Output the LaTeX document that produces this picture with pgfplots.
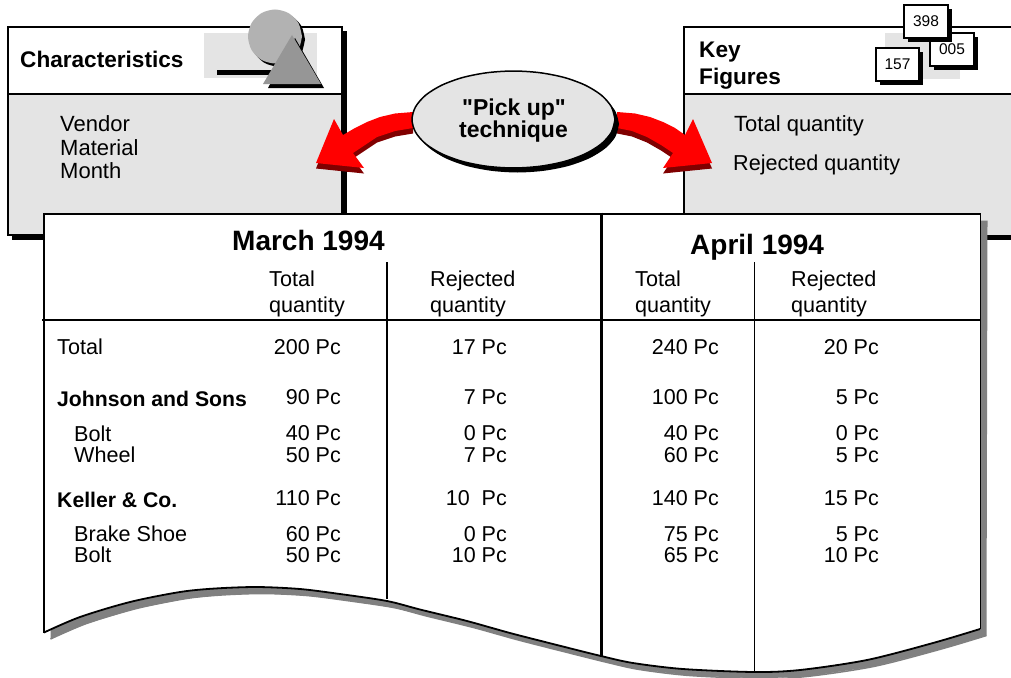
\documentclass[border=0pt]{standalone}
\usepackage{pgfplots}
\pgfplotsset{compat=1.18}
\usepackage{fontspec}
\setmainfont{Liberation Sans}[Ligatures=TeXOff]
\definecolor{boxgray}{HTML}{E4E4E4}
\definecolor{circgray}{HTML}{B2B2B2}
\definecolor{trigray}{HTML}{969696}
\definecolor{shadowgray}{HTML}{808080}
\definecolor{darkred}{HTML}{800000}
\tikzset{
  lt/.style={anchor=base west, inner sep=0pt, font=\fontsize{22}{24}\selectfont, text=black},
  tl/.style={anchor=base west, inner sep=0pt, font=\fontsize{21.6}{24}\selectfont, text=black},
  rt/.style={anchor=base east, inner sep=0pt, font=\fontsize{21.5}{24}\selectfont, text=black},
  bt/.style={anchor=base west, inner sep=0pt, font=\fontsize{21.2}{24}\selectfont\bfseries, text=black},
  hb/.style={anchor=base west, inner sep=0pt, font=\fontsize{22.6}{24}\selectfont\bfseries, text=black},
  ct/.style={anchor=base, inner sep=0pt, font=\fontsize{23}{24}\selectfont\bfseries, text=black},
  mt/.style={anchor=base west, inner sep=0pt, font=\fontsize{28}{30}\selectfont\bfseries, text=black},
  st/.style={anchor=center, inner sep=0pt, font=\fontsize{15.5}{17}\selectfont, text=black},
}
\begin{document}
\begin{tikzpicture}
\begin{axis}[
    scale only axis,
    width=1011pt, height=677pt,
    xmin=0, xmax=1011, ymin=0, ymax=677,
    y dir=reverse,
    hide axis,
]
% page background
\addplot[fill=white, draw=none] coordinates {(0,0) (1011,0) (1011,677) (0,677)} --cycle;

% Characteristics box
\addplot[fill=black, draw=none] coordinates {(12,31) (347,31) (347,240) (12,240)} --cycle;
\addplot[fill=white, draw=none] coordinates {(8,27) (342,27) (342,94) (8,94)} --cycle;
\addplot[fill=boxgray, draw=none] coordinates {(8,94) (342,94) (342,235) (8,235)} --cycle;
\addplot[draw=black, line width=1.8pt] coordinates {(8,27) (342,27) (342,235) (8,235)} --cycle;
\addplot[draw=black, line width=1.5pt] coordinates {(8,94) (342,94)};

% icon: shapes
\addplot[fill=boxgray, draw=none] coordinates {(204,33) (317,33) (317,78) (204,78)} --cycle;
\addplot[fill=black, draw=none] coordinates {(217,70) (272,70) (272,75) (217,75)} --cycle;
\addplot[fill=black, draw=none, smooth, xshift=3pt, yshift=-3pt] coordinates {(302,36.5) (298.4,50) (288.5,59.9) (275,63.5) (261.5,59.9) (251.6,50) (248,36.5) (251.6,23) (261.5,13.1) (275,9.5) (288.5,13.1) (298.4,23) (302,36.5)};
\addplot[fill=circgray, draw=none, smooth] coordinates {(302,36.5) (298.4,50) (288.5,59.9) (275,63.5) (261.5,59.9) (251.6,50) (248,36.5) (251.6,23) (261.5,13.1) (275,9.5) (288.5,13.1) (298.4,23) (302,36.5)};
\addplot[fill=black, draw=none] coordinates {(295,38) (324,88) (268,88)} --cycle;
\addplot[fill=trigray, draw=none] coordinates {(292,35) (321,84) (263,84)} --cycle;

% Key Figures box, runs off the right edge
\addplot[fill=black, draw=none] coordinates {(690,31) (1015,31) (1015,240) (690,240)} --cycle;
\addplot[fill=white, draw=none] coordinates {(684,27) (1015,27) (1015,94) (684,94)} --cycle;
\addplot[fill=boxgray, draw=none] coordinates {(684,94) (1015,94) (1015,235) (684,235)} --cycle;
\addplot[draw=black, line width=1.8pt] coordinates {(1015,27) (684,27) (684,235)};
\addplot[draw=black, line width=1.5pt] coordinates {(684,94) (1015,94)};

% icon: numbers
\addplot[fill=boxgray, draw=none] coordinates {(885,33) (960,33) (960,79) (885,79)} --cycle;
\addplot[fill=black, draw=none] coordinates {(934,37) (978,37) (978,70) (934,70)} --cycle;
\addplot[fill=white, draw=black, line width=1.5pt] coordinates {(930,33) (974,33) (974,66) (930,66)} --cycle;
\addplot[fill=black, draw=none] coordinates {(908,9) (952,9) (952,42) (908,42)} --cycle;
\addplot[fill=white, draw=black, line width=1.5pt] coordinates {(904,5) (948,5) (948,38) (904,38)} --cycle;
\addplot[fill=black, draw=none] coordinates {(880,52) (923,52) (923,85) (880,85)} --cycle;
\addplot[fill=white, draw=black, line width=1.5pt] coordinates {(876,48) (919,48) (919,81) (876,81)} --cycle;
\node[st] at (axis cs:926,21.5) {398};
\node[st] at (axis cs:952,49.5) {005};
\node[st] at (axis cs:897.5,64.5) {157};

% table sheet
\addplot[fill=shadowgray, draw=none, xshift=6.5pt, yshift=-6.5pt] coordinates {(44,214) (981,214) (980,629) (933,643) (867,660) (800,670) (754,672) (683,669) (633,663) (601,656) (553,644) (510,633) (467,621) (420,609.5) (387,601) (340,594) (300,589) (257,587) (215,588.5) (180,592) (130,602) (80,617) (44,632.5)} --cycle;
\addplot[draw=shadowgray, line width=1.5pt, smooth, xshift=6.5pt, yshift=-6.5pt] coordinates {(980,629) (933,643) (867,660) (800,670) (754,672) (683,669) (633,663) (601,656) (553,644) (510,633) (467,621) (420,609.5) (387,601) (340,594) (300,589) (257,587) (215,588.5) (180,592) (130,602) (80,617) (44,632.5)};
\addplot[fill=white, draw=none] coordinates {(44,214) (981,214) (980,629) (933,643) (867,660) (800,670) (754,672) (683,669) (633,663) (601,656) (553,644) (510,633) (467,621) (420,609.5) (387,601) (340,594) (300,589) (257,587) (215,588.5) (180,592) (130,602) (80,617) (44,632.5)} --cycle;
\addplot[draw=black, line width=1.8pt, smooth] coordinates {(980,629) (933,643) (867,660) (800,670) (754,672) (683,669) (633,663) (601,656) (553,644) (510,633) (467,621) (420,609.5) (387,601) (340,594) (300,589) (257,587) (215,588.5) (180,592) (130,602) (80,617) (44,632.5)};
\addplot[draw=black, line width=1.4pt] coordinates {(44,632.5) (44,214) (980.5,214) (980.5,629)};
\addplot[draw=black, line width=1.5pt] coordinates {(42,320) (981,320)};
\addplot[draw=black, line width=3pt] coordinates {(601,212.5) (601,657)};
\addplot[draw=black, line width=1.1pt] coordinates {(387,262) (387,599)};
\addplot[draw=black, line width=1.1pt] coordinates {(754.5,262) (754.5,672)};

% pick up arrows
\addplot[fill=darkred, draw=none, yshift=-5.5pt] coordinates {(413,112) (395,113.5) (380,117) (367,122) (355,128) (343,135) (334,119) (316,163) (364,168) (353,153) (365,145) (377,137) (395,131) (413,128)} --cycle;
\addplot[fill=red, draw=none] coordinates {(413,112) (395,113.5) (380,117) (367,122) (355,128) (343,135) (334,119) (316,163) (364,168) (353,153) (365,145) (377,137) (395,131) (413,128)} --cycle;
\addplot[fill=darkred, draw=none, yshift=-5.5pt] coordinates {(617,112) (635,113.5) (650,117) (663,122) (675,128) (685,135) (693,119) (712,163) (663,168) (673,153) (661,145) (647,137) (632,131) (617,128)} --cycle;
\addplot[fill=red, draw=none] coordinates {(617,112) (635,113.5) (650,117) (663,122) (675,128) (685,135) (693,119) (712,163) (663,168) (673,153) (661,145) (647,137) (632,131) (617,128)} --cycle;

% ellipse
\addplot[fill=black, draw=none, smooth, xshift=4pt, yshift=-4.5pt] coordinates {(615,119.5) (611.5,132.1) (601.4,143.8) (585.3,153.8) (564.3,161.5) (539.8,166.3) (513.5,168) (487.2,166.3) (462.7,161.5) (441.7,153.8) (425.6,143.8) (415.5,132.1) (412,119.5) (415.5,106.9) (425.6,95.2) (441.7,85.2) (462.7,77.5) (487.2,72.7) (513.5,71) (539.8,72.7) (564.3,77.5) (585.3,85.2) (601.4,95.2) (611.5,106.9) (615,119.5)};
\addplot[fill=boxgray, draw=black, line width=1.5pt, smooth] coordinates {(615,119.5) (611.5,132.1) (601.4,143.8) (585.3,153.8) (564.3,161.5) (539.8,166.3) (513.5,168) (487.2,166.3) (462.7,161.5) (441.7,153.8) (425.6,143.8) (415.5,132.1) (412,119.5) (415.5,106.9) (425.6,95.2) (441.7,85.2) (462.7,77.5) (487.2,72.7) (513.5,71) (539.8,72.7) (564.3,77.5) (585.3,85.2) (601.4,95.2) (611.5,106.9) (615,119.5)};

% texts of the upper boxes
\node[hb] at (axis cs:20,67) {Characteristics};
\node[lt] at (axis cs:60,131) {Vendor};
\node[lt] at (axis cs:60,155) {Material};
\node[lt] at (axis cs:60,178) {Month};
\node[hb] at (axis cs:699,58) {Key};
\node[hb] at (axis cs:699,84) {Figures};
\node[lt] at (axis cs:734,131) {Total quantity};
\node[tl] at (axis cs:733,170) {Rejected quantity};
\node[ct] at (axis cs:514,115) {"Pick up"};
\node[ct] at (axis cs:513.5,137) {technique};

% table heads
\node[mt] at (axis cs:232,250) {March 1994};
\node[mt] at (axis cs:690,254) {April 1994};
\node[tl] at (axis cs:269,286) {Total};
\node[tl] at (axis cs:269,312) {quantity};
\node[tl] at (axis cs:430,286) {Rejected};
\node[tl] at (axis cs:430,312) {quantity};
\node[tl] at (axis cs:635,286) {Total};
\node[tl] at (axis cs:635,312) {quantity};
\node[tl] at (axis cs:791,286) {Rejected};
\node[tl] at (axis cs:791,312) {quantity};

% row labels
\node[tl] at (axis cs:57,354) {Total};
\node[bt] at (axis cs:57,406) {Johnson and Sons};
\node[tl] at (axis cs:74,441) {Bolt};
\node[tl] at (axis cs:74,462) {Wheel};
\node[bt] at (axis cs:57,507) {Keller \& Co.};
\node[tl] at (axis cs:74,541) {Brake Shoe};
\node[tl] at (axis cs:74,562) {Bolt};

% values
\node[rt] at (axis cs:341,354) {200 Pc};
\node[rt] at (axis cs:507,354) {17 Pc};
\node[rt] at (axis cs:719,354) {240 Pc};
\node[rt] at (axis cs:879,354) {20 Pc};
\node[rt] at (axis cs:341,404) {90 Pc};
\node[rt] at (axis cs:507,404) {7 Pc};
\node[rt] at (axis cs:719,404) {100 Pc};
\node[rt] at (axis cs:879,404) {5 Pc};
\node[rt] at (axis cs:341,440) {40 Pc};
\node[rt] at (axis cs:507,440) {0 Pc};
\node[rt] at (axis cs:719,440) {40 Pc};
\node[rt] at (axis cs:879,440) {0 Pc};
\node[rt] at (axis cs:341,462) {50 Pc};
\node[rt] at (axis cs:507,462) {7 Pc};
\node[rt] at (axis cs:719,462) {60 Pc};
\node[rt] at (axis cs:879,462) {5 Pc};
\node[rt] at (axis cs:341,505) {110 Pc};
\node[rt] at (axis cs:507,505) {10\ \ Pc};
\node[rt] at (axis cs:719,505) {140 Pc};
\node[rt] at (axis cs:879,505) {15 Pc};
\node[rt] at (axis cs:341,541) {60 Pc};
\node[rt] at (axis cs:507,541) {0 Pc};
\node[rt] at (axis cs:719,541) {75 Pc};
\node[rt] at (axis cs:879,541) {5 Pc};
\node[rt] at (axis cs:341,562) {50 Pc};
\node[rt] at (axis cs:507,562) {10 Pc};
\node[rt] at (axis cs:719,562) {65 Pc};
\node[rt] at (axis cs:879,562) {10 Pc};
\end{axis}
\end{tikzpicture}
\end{document}
